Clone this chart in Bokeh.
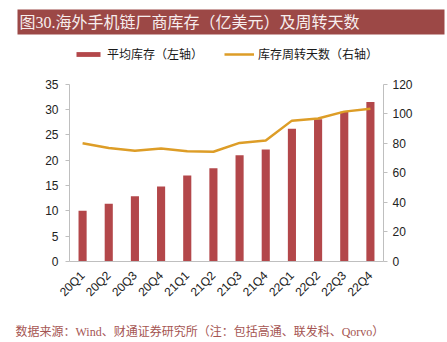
import math
from bokeh.plotting import figure
from bokeh.models import (Range1d, LinearAxis, FactorRange, FixedTicker, ColumnDataSource,
                          Title, Legend, LegendItem)
from bokeh.embed import file_html
from bokeh.resources import INLINE

# ---- data ----
quarters = ["20Q1", "20Q2", "20Q3", "20Q4", "21Q1", "21Q2",
            "21Q3", "21Q4", "22Q1", "22Q2", "22Q3", "22Q4"]
avg_inventory = [10.0, 11.4, 12.9, 14.8, 17.0, 18.4, 21.0, 22.1, 26.2, 28.1, 29.6, 31.5]
turnover_days = [80.1, 76.8, 75.0, 76.5, 74.7, 74.3, 80.3, 81.9, 95.4, 96.8, 101.5, 103.5]
left_ticks = [0, 5, 10, 15, 20, 25, 30, 35]
right_ticks = [0, 20, 40, 60, 80, 100, 120]

title_text = "图30.海外手机链厂商库存（亿美元）及周转天数"
bar_label = "平均库存（左轴）"
line_label = "库存周转天数（右轴）"
source_text = "数据来源：Wind、财通证券研究所（注：包括高通、联发科、Qorvo）"

BAR_COLOR = "#B3474A"
LINE_COLOR = "#DD9D27"
TITLE_BG = "#9C4846"
AXIS_COLOR = "#BFBFBF"
SANS = "Liberation Sans, Noto Sans CJK SC"
CJK = "Noto Sans CJK SC"
SERIF = "Liberation Serif, Noto Sans CJK SC"

W, H = 447, 342
FL, FR = 69, 383          # frame left / right (page px)
FTOP, FB = 40, 261        # frame top / bottom (page px); legend lives inside frame top
AX_TOP = 83               # page y where the axes end (35 / 120)
stretch = (FB - FTOP) / (FB - AX_TOP)

src = ColumnDataSource(dict(q=quarters, inv=avg_inventory, days=turnover_days))
p = figure(width=W, height=H, x_range=FactorRange(*quarters),
           y_range=Range1d(0, left_ticks[-1] * stretch),
           toolbar_location=None, output_backend="svg",
           min_border_left=FL, min_border_right=W - FR, min_border_top=FTOP,
           min_border_bottom=H - FB, outline_line_color=None)
p.extra_y_ranges = {"right": Range1d(0, right_ticks[-1] * stretch)}
p.grid.visible = False

bars = p.vbar(x="q", top="inv", width=0.31, source=src, fill_color=BAR_COLOR, line_color=None)
line = p.line(x="q", y="days", source=src, y_range_name="right",
              line_color=LINE_COLOR, line_width=2.5)

ya = p.yaxis[0]
ya.ticker = FixedTicker(ticks=left_ticks)
ya.bounds = (left_ticks[0], left_ticks[-1])
ra = LinearAxis(y_range_name="right", ticker=FixedTicker(ticks=right_ticks),
                bounds=(right_ticks[0], right_ticks[-1]))
p.add_layout(ra, "right")
for ax in (ya, ra):
    ax.axis_line_color = AXIS_COLOR
    ax.major_tick_line_color = AXIS_COLOR
    ax.major_tick_out = 4
    ax.major_tick_in = 0
    ax.minor_tick_line_color = None
    ax.major_label_text_font = SANS
    ax.major_label_text_font_size = "12px"
    ax.major_label_text_color = "#222222"
ya.major_label_standoff = 7
ra.major_label_standoff = 5

xa = p.xaxis[0]
xa.axis_line_color = AXIS_COLOR
xa.major_tick_line_color = None
xa.minor_tick_line_color = None
xa.major_label_orientation = math.pi / 4
xa.major_label_text_font = SANS
xa.major_label_text_font_size = "12px"
xa.major_label_text_color = "#222222"
xa.major_label_standoff = 6

# ---- legend: inside the frame's top strip (above where the axes end) ----
legend = Legend(items=[LegendItem(label=bar_label, renderers=[bars]),
                       LegendItem(label=line_label, renderers=[line])],
                orientation="horizontal", location=(4, 199),
                glyph_width=30, glyph_height=6, label_height=12, label_standoff=4,
                spacing=21, padding=0, margin=0, border_line_color=None,
                background_fill_alpha=0, label_text_font=CJK, label_text_font_size="12px",
                label_text_color="#1A1A1A")
p.add_layout(legend, "center")

# ---- title band ----
p.title.text = title_text
p.title.align = "left"
p.title.offset = -52
p.title.text_font = SERIF
p.title.text_font_size = "16px"
p.title.text_font_style = "normal"
p.title.text_color = "#F7EEEE"
p.title.background_fill_color = TITLE_BG
p.title.standoff = 14
p.title.padding = dict(left=2, right=85, top=4, bottom=4)

# ---- source note ----
foot = Title(text=source_text, align="left", offset=-54, text_font=SERIF,
             text_font_size="12px", text_font_style="normal", text_color="#A55552",
             standoff=6)
foot.padding = dict(left=0, right=0, top=12, bottom=0)
p.add_layout(foot, "below")

open("out.html", "w").write(file_html(p, INLINE))
